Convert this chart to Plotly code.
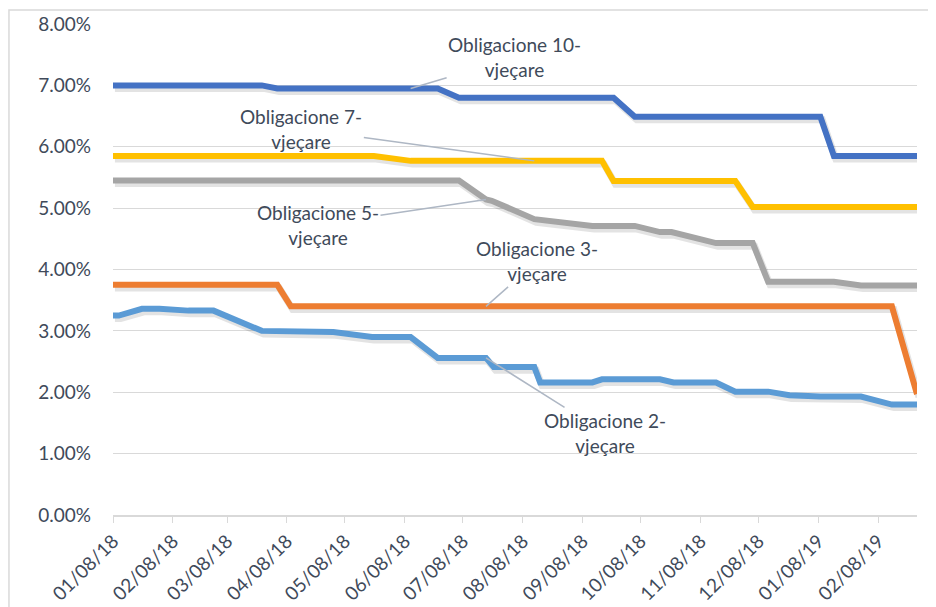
import plotly.graph_objects as go

# ---------------- data ----------------
dates_10 = ["2018-01-08", "2018-03-26", "2018-04-03", "2018-06-25", "2018-07-06",
            "2018-09-24", "2018-10-05", "2019-01-09", "2019-01-16", "2019-02-28"]
yield_10 = [7.00, 7.00, 6.95, 6.95, 6.80, 6.80, 6.49, 6.49, 5.85, 5.85]

dates_7 = ["2018-01-08", "2018-05-23", "2018-06-11", "2018-09-18", "2018-09-24",
           "2018-11-26", "2018-12-05", "2019-02-28"]
yield_7 = [5.85, 5.85, 5.77, 5.77, 5.44, 5.44, 5.02, 5.02]

dates_5 = ["2018-01-08", "2018-07-06", "2018-07-20", "2018-07-23", "2018-08-14",
           "2018-09-13", "2018-10-05", "2018-10-18", "2018-10-24", "2018-11-16",
           "2018-12-05", "2018-12-13", "2019-01-16", "2019-01-30", "2019-02-28"]
yield_5 = [5.45, 5.45, 5.14, 5.12, 4.82, 4.71, 4.71, 4.61, 4.61, 4.43,
           4.43, 3.80, 3.80, 3.74, 3.74]

dates_3 = ["2018-01-08", "2018-04-03", "2018-04-10", "2019-02-15", "2019-02-28"]
yield_3 = [3.75, 3.75, 3.40, 3.40, 1.97]

dates_2 = ["2018-01-08", "2018-01-11", "2018-01-23", "2018-02-01", "2018-02-16",
           "2018-03-01", "2018-03-26", "2018-04-10", "2018-05-02", "2018-05-22",
           "2018-06-11", "2018-06-25", "2018-07-20", "2018-07-24", "2018-08-14",
           "2018-08-17", "2018-09-13", "2018-09-18", "2018-10-18", "2018-10-25",
           "2018-11-16", "2018-11-26", "2018-12-13", "2018-12-24", "2019-01-09",
           "2019-01-30", "2019-02-15", "2019-02-28"]
yield_2 = [3.25, 3.25, 3.36, 3.36, 3.33, 3.33, 3.00, 3.00, 2.98, 2.90,
           2.90, 2.56, 2.56, 2.41, 2.41, 2.16, 2.16, 2.21, 2.21, 2.16,
           2.16, 2.01, 2.01, 1.95, 1.93, 1.93, 1.80, 1.80]

tick_dates = ["2018-01-08", "2018-02-08", "2018-03-08", "2018-04-08", "2018-05-08",
              "2018-06-08", "2018-07-08", "2018-08-08", "2018-09-08", "2018-10-08",
              "2018-11-08", "2018-12-08", "2019-01-08", "2019-02-08"]
tick_labels = ["01/08/18", "02/08/18", "03/08/18", "04/08/18", "05/08/18",
               "06/08/18", "07/08/18", "08/08/18", "09/08/18", "10/08/18",
               "11/08/18", "12/08/18", "01/08/19", "02/08/19"]

series = [
    ("Obligacione 10-vjeçare", dates_10, yield_10, "#4472C4"),
    ("Obligacione 7-vjeçare", dates_7, yield_7, "#FFC000"),
    ("Obligacione 5-vjeçare", dates_5, yield_5, "#A5A5A5"),
    ("Obligacione 3-vjeçare", dates_3, yield_3, "#ED7D31"),
    ("Obligacione 2-vjeçare", dates_2, yield_2, "#5B9BD5"),
]

# label text, anchor point (date, value), text offset in px
labels = [
    ("Obligacione 10-<br>vjeçare", "2018-06-11", 6.95, 104, -31),
    ("Obligacione 7-<br>vjeçare", "2018-08-14", 5.77, -233, -32),
    ("Obligacione 5-<br>vjeçare", "2018-07-20", 5.14, -168, 25),
    ("Obligacione 3-<br>vjeçare", "2018-07-20", 3.40, 51, -45),
    ("Obligacione 2-<br>vjeçare", "2018-07-20", 2.56, 119, 75),
]

# ---------------- figure ----------------
FONT = "Lato"
TXT = "#404A5A"
GRID = "#D9D9D9"
x_range = ["2018-01-08", "2019-02-28"]
shadow_x_range = ["2018-01-07", "2019-02-27"]

fig = go.Figure()

# soft drop shadows (same data, drawn on a slightly offset hidden axis pair)
for name, d, v, c in series:
    fig.add_trace(go.Scatter(x=d, y=v, mode="lines", name=name, showlegend=False,
                             xaxis="x", yaxis="y", hoverinfo="skip",
                             line=dict(color="rgba(0,0,0,0.11)", width=7)))
# main lines
for name, d, v, c in series:
    fig.add_trace(go.Scatter(x=d, y=v, mode="lines", name=name, showlegend=False,
                             xaxis="x2", yaxis="y2",
                             line=dict(color=c, width=6)))

for text, xd, yv, ax, ay in labels:
    fig.add_annotation(x=xd, y=yv, xref="x2", yref="y2", text=text,
                       showarrow=True, arrowhead=0, arrowwidth=1.5,
                       arrowcolor="#AEB7C4", ax=ax, ay=ay,
                       font=dict(family=FONT, size=19, color=TXT),
                       align="center")

# outer chart frame
fig.add_shape(type="rect", xref="paper", yref="paper",
              x0=-0.1294, x1=1.04, y0=-0.2, y1=1.0285,
              line=dict(color=GRID, width=1.5), fillcolor="rgba(0,0,0,0)",
              layer="below")

fig.update_layout(
    width=928, height=599,
    margin=dict(l=105, r=19, t=16, b=92),
    paper_bgcolor="white", plot_bgcolor="white",
    font=dict(family=FONT, size=19, color=TXT),
    xaxis=dict(type="date", range=shadow_x_range, showgrid=False, showline=False,
               zeroline=False, showticklabels=False, ticks="", automargin=False),
    yaxis=dict(range=[0.05, 8.05], showgrid=False, showline=False,
               zeroline=False, showticklabels=False, ticks="", automargin=False),
    xaxis2=dict(type="date", range=x_range, overlaying="x", anchor="y2",
                tickvals=tick_dates, ticktext=tick_labels, automargin=False,
                tickangle=-45, ticks="outside", ticklen=6, tickcolor=GRID,
                showgrid=False, showline=True, linecolor=GRID, linewidth=1.5,
                zeroline=False, tickfont=dict(family=FONT, size=19, color=TXT)),
    yaxis2=dict(range=[0, 8], overlaying="y", anchor="x2", side="left",
                dtick=1, tickformat=".2f", ticksuffix="%", automargin=False,
                showgrid=True, gridcolor=GRID, gridwidth=1.3, zeroline=False,
                showline=False, ticks="", ticklabelstandoff=21,
                tickfont=dict(family=FONT, size=19, color=TXT)),
)

fig.write_html("out.html")
